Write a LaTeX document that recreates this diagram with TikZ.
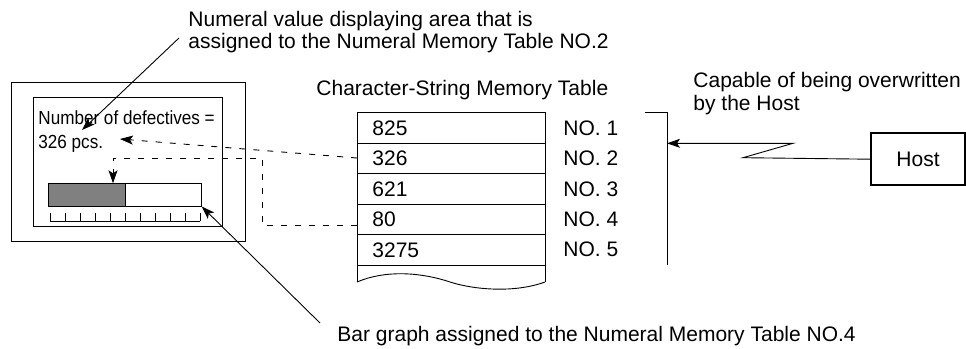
\documentclass[tikz,border=0pt]{standalone}
\usepackage{fontspec}
\setmainfont{Liberation Sans}
\newfontfamily\narrowfont[FakeStretch=0.9]{Liberation Sans}
\usetikzlibrary{arrows.meta}
\begin{document}
\begin{tikzpicture}[x=1pt,y=-1pt,
  line width=0.9pt,
  lbl/.style={anchor=base west,inner sep=0pt,font=\fontsize{21}{23}\selectfont},
  panel/.style={anchor=base west,inner sep=0pt,font=\narrowfont\fontsize{19}{21}\selectfont},
  tip/.style={-{Stealth[length=13pt,width=9pt,inset=3pt]}},
  dsh/.style={dash pattern=on 6pt off 8pt},
  hostbox/.style={draw,line width=1.6pt,minimum width=94pt,minimum height=52pt,inner sep=0pt,font=\fontsize{21}{23}\selectfont}]
\useasboundingbox (0,0) rectangle (966,348);
% display panel
\draw (11,82.7) rectangle (245.7,241.7);
\draw (33,97.7) rectangle (222.7,226.7);
\node[panel] (numdef) at (38,124) {Number of defectives =};
\node[panel] (pcs) at (38,148) {326 pcs.};
% bar graph
\fill[black!50] (48.3,183.3) rectangle (125,206);
\draw (48.3,183.3) rectangle (201.7,206);
\draw (125,183.3) -- (125,206);
\draw (50,221) -- (200,221);
\foreach \i in {0,...,10} { \draw (50+15*\i,213) -- (50+15*\i,221); }
\coordinate (numtip) at (120,139);
\coordinate (bartop) at (113,183.3);
\coordinate (barcorner) at (201.7,206.5);
% top label
\node[lbl] (toplbl1) at (188,26) {Numeral value displaying area that is};
\node[lbl] (toplbl2) at (188,48) {assigned to the Numeral Memory Table NO.2};
\coordinate (topstart) at (179,38);
\draw[tip] (topstart) -- (82,130);
% bottom label
\node[lbl] (botlbl) at (337,341) {Bar graph assigned to the Numeral Memory Table NO.4};
\coordinate (botstart) at (320,323);
\draw[tip] (botstart) -- (barcorner);
% table
\node[lbl] (tabtitle) at (316,95) {Character-String Memory Table};
\draw (357,282) -- (357,112) -- (545,112) -- (545,282);
\foreach \y in {143,173.5,204,234.5,265} { \draw (357,\y) -- (545,\y); }
\draw (357,282) .. controls (385,270) and (420,272) .. (450,282) .. controls (475,290) and (515,293) .. (545,282);
\node[lbl] (r1) at (372,135) {825};
\node[lbl] (r2) at (372,165.5) {326};
\node[lbl] (r3) at (372,196) {621};
\node[lbl] (r4) at (372,226.5) {80};
\node[lbl] (r5) at (372,257.5) {3275};
\node[lbl] (n1) at (563,135) {NO. 1};
\node[lbl] (n2) at (563,165.5) {NO. 2};
\node[lbl] (n3) at (563,196) {NO. 3};
\node[lbl] (n4) at (563,226.5) {NO. 4};
\node[lbl] (n5) at (563,256.5) {NO. 5};
\coordinate (row2) at (357,158);
\coordinate (row4) at (357,225);
% dashed links
\draw[dsh,tip] (row2) -- (numtip);
\draw[dsh,tip] (row4) -- (262,225) -- (262,158) -- (113,158) -- (bartop);
% right side
\draw (645,112.7) -- (667,112.7) -- (667,265);
\coordinate (brk) at (667,143.3);
\node[lbl] (cap1) at (693,87) {Capable of being overwritten};
\node[lbl] (cap2) at (693,110) {by the Host};
\node[hostbox] (host) at (918,159.2) {Host};
\draw[tip] (host.west) -- (743,157.7) -- (793,143.3) -- (brk);
\end{tikzpicture}
\end{document}
